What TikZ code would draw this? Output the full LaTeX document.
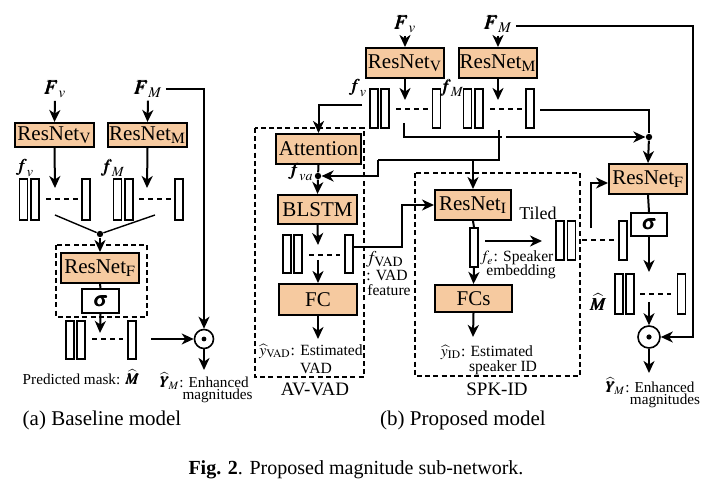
\documentclass[tikz,border=0pt]{standalone}
\usepackage{mathptmx}
\usepackage{bm}
\usepackage{fontspec}
\setmainfont{Liberation Serif}
\usetikzlibrary{arrows.meta,calc}
\definecolor{boxfill}{RGB}{246,202,160}
\tikzset{
 box/.style={draw, line width=1pt, fill=boxfill, inner sep=0pt, font=\fontsize{10.5}{12}\selectfont},
 sbox/.style={draw, line width=1pt, fill=white, inner sep=0pt, font=\fontsize{10}{12}\selectfont},
 bar/.style={draw, line width=0.8pt, minimum width=4pt, inner sep=0pt},
 arr/.style={line width=1pt, -{Stealth[length=6pt,width=5.5pt,inset=1.8pt]}},
 ln/.style={line width=1pt},
 thinln/.style={line width=0.7pt},
 seqdash/.style={line width=0.9pt, dash pattern=on 2.5pt off 2pt},
 grpbox/.style={line width=0.9pt, dash pattern=on 2.5pt off 1.6pt},
 lbl/.style={inner sep=0pt, font=\fontsize{7.6}{8.5}\selectfont},
 slbl/.style={inner sep=0pt, font=\fontsize{7.8}{9}\selectfont},
 mlbl/.style={inner sep=0pt, font=\fontsize{10}{12}\selectfont},
 flbl/.style={inner sep=0pt, font=\fontsize{9}{10}\selectfont},
 captxt/.style={inner sep=0pt, font=\fontsize{10.5}{12}\selectfont},
 dot/.style={circle, fill, inner sep=0pt, minimum size=3.2pt},
 odot/.style={circle, draw, line width=0.8pt, inner sep=0pt},
}
\begin{document}
\begin{tikzpicture}[x=0.5pt,y=-0.5pt]
\useasboundingbox (0,0) rectangle (717,496);

% ================= (a) Baseline =================
\node[mlbl] (aFv) at (55,89) {$\bm F_v$};
\node[mlbl] (aFM) at (148,89) {$\bm F_M$};
\node[box,minimum width=39.5pt,minimum height=12pt] (aV) at (54.5,135) {ResNet$_\mathrm{V}$};
\node[box,minimum width=39.5pt,minimum height=12pt] (aM) at (147.5,135) {ResNet$_\mathrm{M}$};
\draw[arr] (aFv.south) ++(0,3) -- (aV.north);
\draw[arr] (aFM.south) ++(0,3) -- (aM.north);
\coordinate (aVt) at (55,188);
\coordinate (aMt) at (147,188);
\draw[arr] (aV.south) -- (aVt);
\draw[arr] (aM.south) -- (aMt);
\node[flbl] at (25,168) {$\bm f_v$};
\node[flbl] at (113,168) {$\bm f_M$};
% feature sequences
\node[bar,minimum height=20.5pt] (av1) at (23.5,199.5) {};
\node[bar,minimum height=20.5pt] (av2) at (35,199.5) {};
\node[bar,minimum height=20.5pt] (av3) at (86,199.5) {};
\draw[seqdash] (46,199) -- (78,199);
\node[bar,minimum height=20.5pt] (am1) at (117.5,199.5) {};
\node[bar,minimum height=20.5pt] (am2) at (129,199.5) {};
\node[bar,minimum height=20.5pt] (am3) at (179,199.5) {};
\draw[seqdash] (139,199) -- (171,199);
% merge
\coordinate (amA) at (55,215);
\coordinate (amB) at (155,215);
\node[dot] (amg) at (100,234) {};
\draw[thinln] (amA) -- (amg) -- (amB);
\draw[grpbox] (56,245) rectangle (147,317);
\node[box,minimum width=39pt,minimum height=15pt] (aF) at (100,268) {ResNet$_\mathrm{F}$};
\draw[arr] (amg) -- (aF.north);
\node[sbox,minimum width=18.5pt,minimum height=12pt] (as) at (100.5,301) {$\bm\sigma$};
\draw[ln] (aF.south) -- (as.north);
\coordinate (ast) at (100,333);
\draw[arr] (as.south) -- (ast);
\node[bar,minimum height=19pt] (ak1) at (70,340) {};
\node[bar,minimum height=19pt] (ak2) at (81,340) {};
\node[bar,minimum height=19pt] (ak3) at (132,340) {};
\draw[seqdash] (92,339) -- (123,339);
\node[odot,minimum size=9.5pt] (ao) at (204,339) {};
\fill (ao.center) circle (1.2pt);
\coordinate (amk) at (151,339);
\draw[arr] (amk) -- (ao.west);
\draw[arr] (aFM.east) ++(3,0) -| (ao.north);
\coordinate (aout) at (204,370);
\draw[arr] (ao.south) -- (aout);
\node[lbl] at (81,377) {Predicted mask: $\widehat{\bm M}$};
\node[lbl,anchor=east] at (249,381) {$\widehat{\bm Y}_{\!M}$: Enhanced};
\node[lbl,anchor=east] at (253,396) {magnitudes};
\node[captxt] at (102,420) {(a) Baseline model};

% ================= (b) Proposed =================
\node[mlbl] (bFv) at (405,24) {$\bm F_v$};
\node[mlbl] (bFM) at (498,24) {$\bm F_M$};
\node[box,minimum width=39pt,minimum height=15pt] (bV) at (405,63) {ResNet$_\mathrm{V}$};
\node[box,minimum width=39pt,minimum height=15pt] (bM) at (498,63) {ResNet$_\mathrm{M}$};
\draw[arr] (bFv.south) ++(0,3) -- (bV.north);
\draw[arr] (bFM.south) ++(0,3) -- (bM.north);
\coordinate (bVt) at (405,100);
\coordinate (bMt) at (498,100);
\draw[arr] (bV.south) -- (bVt);
\draw[arr] (bM.south) -- (bMt);
\node[flbl] at (358,88) {$\bm f_v$};
\node[flbl] at (452,88) {$\bm f_M$};
\node[bar,minimum height=19.5pt] (bv1) at (374,108.5) {};
\node[bar,minimum height=19.5pt] (bv2) at (385,108.5) {};
\node[bar,minimum height=19.5pt] (bv3) at (436.5,108.5) {};
\draw[seqdash] (396,109) -- (428,109);
\node[bar,minimum height=19.5pt] (bm1) at (467.5,108.5) {};
\node[bar,minimum height=19.5pt] (bm2) at (479,108.5) {};
\node[bar,minimum height=19.5pt] (bm3) at (530,108.5) {};
\draw[seqdash] (490,109) -- (522,109);

% AV-VAD group
\draw[grpbox] (255,128) rectangle (364,377);
\node[box,minimum width=42.5pt,minimum height=15pt] (att) at (318.5,149) {Attention};
\node[box,minimum width=39.5pt,minimum height=14.5pt] (bl) at (317.5,209.5) {BLSTM};
\node[box,minimum width=39pt,minimum height=15.5pt] (fc) at (318,299.5) {FC};
\coordinate (bvl) at (362,105);
\draw[arr] (bvl) -| (att.north);
\node[dot] (vadot) at (318,176) {};
\draw[ln] (att.south) -- (vadot);
\draw[arr] (vadot) -- (bl.north);
\node[flbl,anchor=east] at (314,172) {$\bm f_{va}$};
\coordinate (blt) at (318,245);
\draw[arr] (bl.south) -- (blt);
\node[bar,minimum height=19pt] (bd1) at (287,254) {};
\node[bar,minimum height=19pt] (bd2) at (298,254) {};
\node[bar,minimum height=19pt] (bd3) at (349,254) {};
\draw[seqdash] (309,255) -- (340,255);
\coordinate (fcin) at (318,260);
\draw[arr] (fcin) -- (fc.north);
\coordinate (fcout) at (318,339);
\draw[arr] (fc.south) -- (fcout);
\node[slbl] at (311,351) {$\widehat{y}_{\mathrm{VAD}}$: Estimated};
\node[slbl] at (316,368) {VAD};
\node[captxt,font=\fontsize{9.5}{11}\selectfont] at (315,389) {AV-VAD};

% SPK-ID group
\draw[grpbox] (415,173) rectangle (580,376);
\node[box,minimum width=38pt,minimum height=15pt] (rI) at (473,205) {ResNet$_\mathrm{I}$};
\node[box,minimum width=38.5pt,minimum height=13.5pt] (fcs) at (473.5,298.5) {FCs};
\node[bar,minimum height=19.5pt] (emb) at (474,247.5) {};
\draw[ln] (rI.south) -- (emb.north);
\draw[arr] (emb.south) -- (fcs.north);
\coordinate (fcsout) at (473,337);
\draw[arr] (fcs.south) -- (fcsout);
\node[slbl] at (487,352) {$\widehat{y}_{\mathrm{ID}}$: Estimated};
\node[slbl] at (503,368) {speaker ID};
\node[captxt,font=\fontsize{9.5}{11}\selectfont] at (497,389) {SPK-ID};
\coordinate (embA) at (485,241);
\coordinate (embB) at (542,241);
\draw[arr] (embA) -- (embB);
\node[slbl,anchor=west] at (480,258) {$f_e$: Speaker};
\node[slbl] at (521,272) {embedding};

% VAD feature connector
\coordinate (vadk) at (402,247);
\draw[arr] (bd3.east) ++(0,-7) -| (vadk |- rI.west) -- (rI.west);
\node[flbl] at (385,259) {$f_{\mathrm{VAD}}$};
\node[slbl] at (387,275) {: VAD};
\node[slbl] at (389,290) {feature};

% ResNet_V / ResNet_M routing
\coordinate (vdrop) at (404,123);
\node[dot] (fdot) at (649,137) {};
\draw[arr] (vdrop) |- (fdot);
\draw[white,line width=2.2pt] (501.5,137) -- (506,137);
\coordinate (mdrop) at (499,130);
\coordinate (mturn) at (378,160);
\draw[ln] (mdrop) -- (499,160) -- (mturn);
\draw[arr] (mturn) |- (vadot);
\draw[arr] (473,160) -- (rI.north);
\coordinate (mright) at (540,110);
\draw[ln] (mright) -| (fdot);

% Fusion
\node[box,minimum width=39pt,minimum height=15pt] (bF) at (648,179) {ResNet$_\mathrm{F}$};
\draw[arr] (fdot) -- (bF.north);
\node[bar,minimum height=19.5pt] (t1) at (560,240.5) {};
\node[bar,minimum height=19.5pt] (t2) at (571.5,240.5) {};
\node[bar,minimum height=19.5pt] (t3) at (623,240.5) {};
\draw[seqdash] (582,240) -- (614,240);
\node[slbl,font=\fontsize{9}{10}\selectfont] at (538,213) {Tiled};
\coordinate (tup) at (591,228);
\draw[arr] (tup) |- ($(bF.west)+(0,4)$);
\node[sbox,minimum width=18pt,minimum height=11.5pt] (bs) at (649,224.5) {$\bm\sigma$};
\draw[ln] (bF.south) -- (bs.north);
\coordinate (bst) at (649,272);
\draw[arr] (bs.south) -- (bst);
\node[bar,minimum height=20pt] (mh1) at (619,294) {};
\node[bar,minimum height=20pt] (mh2) at (630,294) {};
\node[bar,minimum height=20pt] (mh3) at (681.5,294) {};
\draw[seqdash] (640,294) -- (671,294);
\node[flbl] at (598,302) {$\widehat{\bm M}$};
\node[odot,minimum size=11pt] (bo) at (649,337) {};
\fill (bo.center) circle (1.3pt);
\coordinate (mhin) at (649,302);
\draw[arr] (mhin) -- (bo.north);
\coordinate (fmc) at (693,337);
\draw[arr] (bFM.east) ++(3,2) -| (fmc) -- (bo.east);
\coordinate (bout) at (649,373);
\draw[arr] (bo.south) -- (bout);
\node[lbl,anchor=west] at (605,386) {$\widehat{\bm Y}_{\!M}$: Enhanced};
\node[lbl] at (665,401) {magnitudes};
\node[captxt] at (463,420) {(b) Proposed model};

\node[captxt,font=\fontsize{10}{12}\selectfont] at (356,470) {\textbf{Fig. 2}. Proposed magnitude sub-network.};
\end{tikzpicture}
\end{document}
